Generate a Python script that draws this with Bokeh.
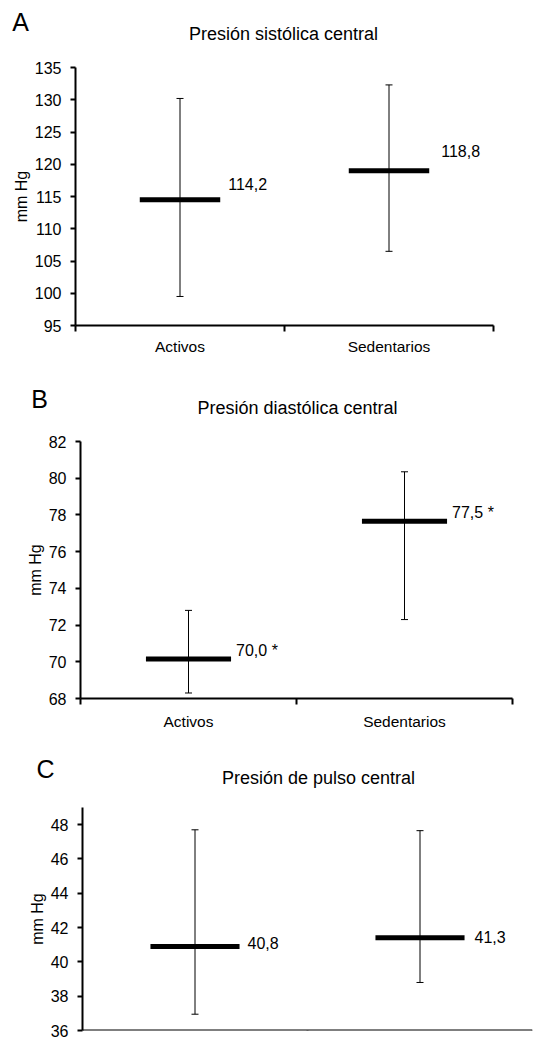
from bokeh.plotting import figure
from bokeh.models import Range1d, FixedTicker, Whisker, TeeHead, ColumnDataSource
from bokeh.layouts import column
from bokeh.embed import file_html
from bokeh.resources import INLINE
from bokeh.core.properties import value

FONT = "Liberation Sans"

# ---------------- data ----------------
categories = ["Activos", "Sedentarios"]

sys_mean = [114.5, 119.0]
sys_upper = [130.2, 132.3]
sys_lower = [99.5, 106.5]
sys_text = ["114,2", "118,8"]
sys_ticks = [95, 100, 105, 110, 115, 120, 125, 130, 135]

dia_mean = [70.15, 77.65]
dia_upper = [72.8, 80.35]
dia_lower = [68.3, 72.3]
dia_text = ["70,0 *", "77,5 *"]
dia_ticks = [68, 70, 72, 74, 76, 78, 80, 82]

pp_mean = [40.9, 41.4]
pp_upper = [47.7, 47.65]
pp_lower = [36.95, 38.8]
pp_text = ["40,8", "41,3"]
pp_ticks = [36, 38, 40, 42, 44, 46, 48]

PAGE_W = 534


def header(letter, title, page_top, height, letter_xy, title_xy):
    h = figure(width=PAGE_W, height=height,
               x_range=Range1d(0, PAGE_W), y_range=Range1d(height, 0),
               min_border=0, x_axis_location=None, y_axis_location=None,
               output_backend="svg", toolbar_location=None, frame_align=False)
    h.outline_line_color = None
    h.grid.visible = False
    h.text(x=[letter_xy[0]], y=[letter_xy[1] - page_top], text=[letter],
           text_font=value(FONT), text_font_size="25px", text_color="black",
           text_align="center", text_baseline="middle")
    h.text(x=[title_xy[0]], y=[title_xy[1] - page_top], text=[title],
           text_font=value(FONT), text_font_size="18px", text_color="black",
           text_align="center", text_baseline="middle")
    return h


def panel(means, uppers, lowers, texts, ticks, ymin, ymax,
          page_top, height, frame, bar_w, lab_off, cat_standoff,
          fixed_axis=False):
    fl, fr, ft, fb = frame
    xmax = 2
    ux = xmax / (fr - fl)
    uy = (ymax - ymin) / (fb - ft)

    p = figure(width=PAGE_W, height=height,
               x_range=Range1d(0, xmax), y_range=Range1d(ymin, ymax),
               output_backend="svg", toolbar_location=None, frame_align=False,
               min_border_left=round(fl), min_border_right=round(PAGE_W - fr),
               min_border_top=round(ft - page_top),
               min_border_bottom=round(page_top + height - fb))
    p.grid.visible = False
    p.outline_line_color = None

    xa = p.xaxis[0]
    xa.ticker = FixedTicker(ticks=[0.5, 1.5], minor_ticks=[0, 1, 2])
    xa.major_label_overrides = {0.5: categories[0], 1.5: categories[1]}
    xa.axis_line_width = 2
    xa.axis_line_color = "black"
    xa.major_tick_line_color = None
    xa.major_tick_in = 0
    xa.major_tick_out = 0
    xa.minor_tick_in = 0
    xa.minor_tick_out = 6
    xa.minor_tick_line_width = 2
    xa.minor_tick_line_color = "black"
    xa.major_label_text_font = FONT
    xa.major_label_text_font_size = "15.5px"
    xa.major_label_text_color = "black"
    xa.major_label_standoff = cat_standoff
    if fixed_axis:
        xa.fixed_location = ymin

    ya = p.yaxis[0]
    ya.ticker = FixedTicker(ticks=ticks)
    ya.axis_line_width = 2
    ya.axis_line_color = "black"
    ya.major_tick_in = 0
    ya.major_tick_out = 5
    ya.major_tick_line_width = 2
    ya.major_tick_line_color = "black"
    ya.minor_tick_line_color = None
    ya.major_label_text_font = FONT
    ya.major_label_text_font_size = "16px"
    ya.major_label_text_color = "black"
    ya.major_label_standoff = 9
    ya.axis_label = "mm Hg"
    ya.axis_label_text_font = FONT
    ya.axis_label_text_font_size = "16px"
    ya.axis_label_text_font_style = "normal"
    ya.axis_label_text_color = "black"
    ya.axis_label_standoff = 2

    xs = [i + 0.5 for i in range(len(categories))]
    lx = [x + bar_w / 2 + dx * ux for x, (dx, dy) in zip(xs, lab_off)]
    ly = [m + dy * uy for m, (dx, dy) in zip(means, lab_off)]
    src = ColumnDataSource(dict(x=xs, mean=means, upper=uppers, lower=lowers,
                                lx=lx, ly=ly, label=texts))

    p.add_layout(Whisker(base="x", upper="upper", lower="lower", source=src,
                         line_color="black", line_width=1,
                         upper_head=TeeHead(size=7, line_color="black", line_width=1),
                         lower_head=TeeHead(size=7, line_color="black", line_width=1)))

    p.rect(x="x", y="mean", width=bar_w, height=5, height_units="screen",
           fill_color="black", line_color=None, source=src)

    p.text(x="lx", y="ly", text="label", source=src,
           text_font=value(FONT), text_font_size="16px", text_color="black",
           text_align="left", text_baseline="middle")
    return p


# positions below are picture pixels (page origin at the top-left corner)
hA = header("A", "Presión sistólica central", 0, 44, (20, 21), (283, 33))
pA = panel(sys_mean, sys_upper, sys_lower, sys_text, sys_ticks, 95, 135,
           page_top=44, height=320, frame=(75, 493, 67, 325),
           bar_w=0.385, lab_off=[(8, 16), (12, 20)], cat_standoff=6)

hB = header("B", "Presión diastólica central", 364, 52, (39, 398), (297, 407))
pB = panel(dia_mean, dia_upper, dia_lower, dia_text, dia_ticks, 68, 82,
           page_top=416, height=316, frame=(80, 512, 441, 698),
           bar_w=0.394, lab_off=[(5, 9), (5, 9)], cat_standoff=8)

hC = header("C", "Presión de pulso central", 732, 56, (45, 768), (318, 777))
pC = panel(pp_mean, pp_upper, pp_lower, pp_text, pp_ticks, 36, 49,
           page_top=788, height=258, frame=(82, 532, 807, 1030),
           bar_w=0.396, lab_off=[(8, 3), (10, 1)], cat_standoff=-6,
           fixed_axis=True)

layout = column(hA, pA, hB, pB, hC, pC)
open("out.html", "w").write(file_html(layout, INLINE))
